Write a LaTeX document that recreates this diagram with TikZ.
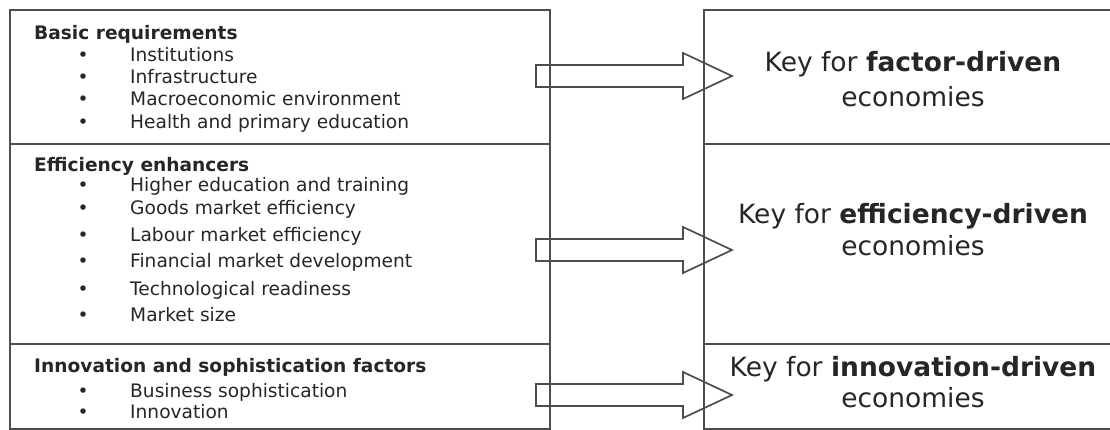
\documentclass[tikz,border=0pt]{standalone}
\usepackage{fontspec}
\setmainfont{DejaVu Sans}
\definecolor{ink}{HTML}{262626}
\definecolor{rule}{HTML}{4D4D4D}
\begin{document}
\begin{tikzpicture}[x=1pt,y=-1pt,
  frame/.style={draw=rule,line width=1.7pt},
  blk/.style={draw=rule,line width=1.7pt,line join=miter},
  head/.style={anchor=base west,inner sep=0pt,font=\fontsize{18.6}{22}\selectfont\bfseries,text=ink},
  item/.style={anchor=base west,inner sep=0pt,font=\fontsize{18.6}{22}\selectfont,text=ink},
  dot/.style={anchor=base,inner sep=0pt,font=\fontsize{18.6}{22}\selectfont,text=ink},
  key/.style={anchor=base,inner sep=0pt,font=\fontsize{26.5}{32}\selectfont,text=ink}]
\useasboundingbox (0,0) rectangle (1110,430);
\begin{scope}
\clip (0,0) rectangle (1110,430);
% left table
\draw[frame] (10,10) rectangle (550,429);
\draw[frame] (10,144) -- (550,144);
\draw[frame] (10,344) -- (550,344);
% right table
\draw[frame] (1125,10) -- (704,10) -- (704,429) -- (1125,429);
\draw[frame] (704,144) -- (1125,144);
\draw[frame] (704,344) -- (1125,344);
\end{scope}

% section 1
\node[head] (h1) at (34,39.5) {Basic requirements};
\foreach \n/\y/\t in {a/62/Institutions, b/84/Infrastructure, c/106/Macroeconomic environment, d/129/Health and primary education}{
  \node[dot] (b1\n) at (83,\y) {•};
  \node[item] (i1\n) at (130,\y) {\t};
}
% section 2
\node[head] (h2) at (34,171.5) {Efficiency enhancers};
\foreach \n/\y/\t in {a/192/Higher education and training, b/215/Goods market efficiency, c/241/Labour market efficiency, d/268/Financial market development, e/295/Technological readiness, f/321/Market size}{
  \node[dot] (b2\n) at (83,\y) {•};
  \node[item] (i2\n) at (130,\y) {\t};
}
% section 3
\node[head] (h3) at (34,372.5) {Innovation and sophistication factors};
\foreach \n/\y/\t in {a/397/Business sophistication, b/418/Innovation}{
  \node[dot] (b3\n) at (83,\y) {•};
  \node[item] (i3\n) at (130,\y) {\t};
}

% right texts
\node[key] (k1) at (913,71.5) {Key for \textbf{factor-driven}};
\node[key] (e1) at (913,107) {economies};
\node[key] (k2) at (913,223.5) {Key for \textbf{efficiency-driven}};
\node[key] (e2) at (913,255.5) {economies};
\node[key] (k3) at (913,376) {Key for \textbf{innovation-driven}};
\node[key] (e3) at (913,407) {economies};

% block arrows
\foreach \i/\y in {1/76, 2/250, 3/395}{
  \coordinate (s\i) at (536,\y);
  \coordinate (t\i) at (732,\y);
  \draw[blk] (s\i) ++(0,-11) -- ++(147,0) -- ++(0,-12) -- (t\i) -- ++(-49,23) -- ++(0,-12) -- ++(-147,0) -- cycle;
}
\end{tikzpicture}
\end{document}
